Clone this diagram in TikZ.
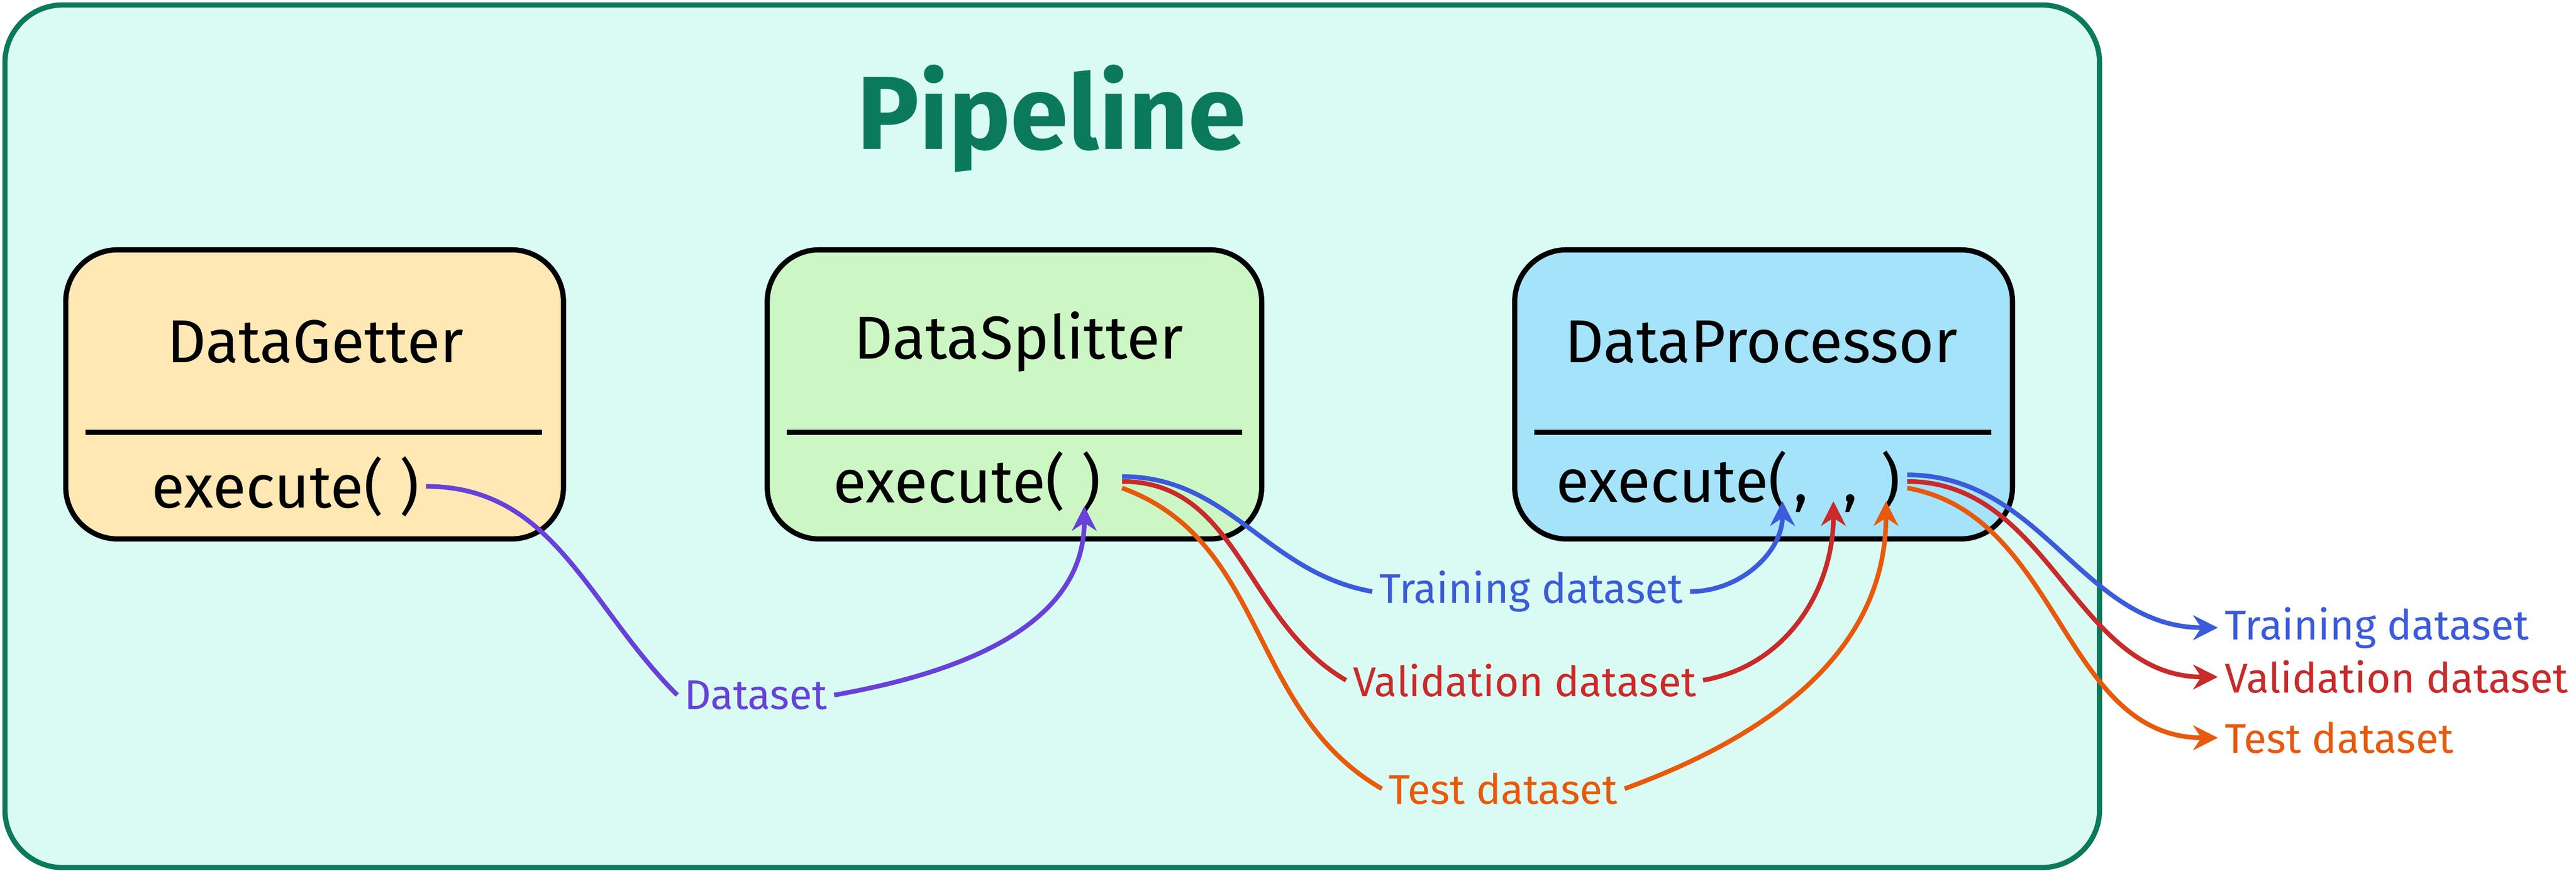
\documentclass[tikz,border=0pt]{standalone}
\usepackage{fontspec}
\setmainfont{Fira Sans}
\usetikzlibrary{arrows.meta}
\definecolor{pipefill}{HTML}{D9FBF3}
\definecolor{pipeline}{HTML}{0B7A5A}
\definecolor{getterfill}{HTML}{FFE8B3}
\definecolor{splitfill}{HTML}{CCF7C4}
\definecolor{procfill}{HTML}{A5E3FB}
\definecolor{cpurple}{HTML}{6741D9}
\definecolor{cblue}{HTML}{3B5BDB}
\definecolor{cred}{HTML}{C92A2A}
\definecolor{corange}{HTML}{E8590C}
\begin{document}
\begin{tikzpicture}[x=0.01cm, y=-0.01cm, >={Stealth[width=1.5mm,length=1.5mm]}]
\tikzset{classbox/.style={draw, line width=0.9pt, rounded corners=9pt},
  classname/.style={font=\fontsize{10.5}{12}\selectfont},
  method/.style={font=\fontsize{10.5}{12}\selectfont, inner sep=1pt},
  flow/.style={line width=0.8pt, ->},
  lbl/.style={font=\fontsize{7.2}{9}\selectfont, inner sep=1pt}}
\useasboundingbox (0,0) rectangle (1568,533);
\draw[pipeline, fill=pipefill, line width=0.9pt, rounded corners=10pt] (3,3) rectangle (1278,528);
\node[pipeline, font=\fontsize{18}{21}\selectfont\bfseries] (title) at (640,72) {Pipeline};
% classes
\draw[classbox, fill=getterfill] (40,152) rectangle (343,328);
\draw[line width=0.9pt] (52,263) -- (330,263);
\node[classname] (getter) at (192,208) {DataGetter};
\node[method, anchor=west] (getexec) at (88,296) {execute( )};
\draw[classbox, fill=splitfill] (467,152) rectangle (768,328);
\draw[line width=0.9pt] (479,263) -- (756,263);
\node[classname] (splitter) at (620,208) {DataSplitter};
\node[method, anchor=west] (splitexec) at (503,293) {execute( )};
\draw[classbox, fill=procfill] (922,152) rectangle (1225,328);
\draw[line width=0.9pt] (934,263) -- (1212,263);
\node[classname] (processor) at (1072,208) {DataProcessor};
\node[method, anchor=west] (procexec) at (943,293) {execute(\hspace{1pt},\hspace{6pt},\hspace{4pt})};
\coordinate (inA) at (1085,305);
\coordinate (inB) at (1116,305);
\coordinate (inC) at (1148,305);
% labels
\node[lbl, cpurple] (ds) at (460,423) {Dataset};
\node[lbl, cblue] (train) at (932,360) {Training dataset};
\node[lbl, cred] (valid) at (928,414) {Validation dataset};
\node[lbl, corange] (test) at (915,480) {Test dataset};
\node[lbl, cblue, anchor=west] (otrain) at (1350,382) {Training dataset};
\node[lbl, cred, anchor=west] (ovalid) at (1350,412) {Validation dataset};
\node[lbl, corange, anchor=west] (otest) at (1350,449) {Test dataset};
% flows
\draw[cpurple, line width=0.8pt] (getexec.east) to[out=0, in=135] (ds.west);
\draw[flow, cpurple] (ds.east) to[out=10, in=-90] (660,308);
\draw[cblue, line width=0.8pt] (683,290) to[out=0, in=170] (train.west);
\draw[flow, cblue] (train.east) to[out=0, in=-90] (inA);
\draw[cred, line width=0.8pt] (683,293) to[out=0, in=150] (valid.west);
\draw[flow, cred] (valid.east) to[out=10, in=-90] (inB);
\draw[corange, line width=0.8pt] (683,297) to[out=-20, in=150] (test.west);
\draw[flow, corange] (test.east) to[out=20, in=-90] (inC);
\draw[flow, cblue] (procexec.east) ++(0,-4) to[out=0, in=180] (otrain.west);
\draw[flow, cred] (procexec.east) to[out=0, in=180] (ovalid.west);
\draw[flow, corange] (procexec.east) ++(0,4) to[out=-10, in=180] (otest.west);
\end{tikzpicture}
\end{document}
